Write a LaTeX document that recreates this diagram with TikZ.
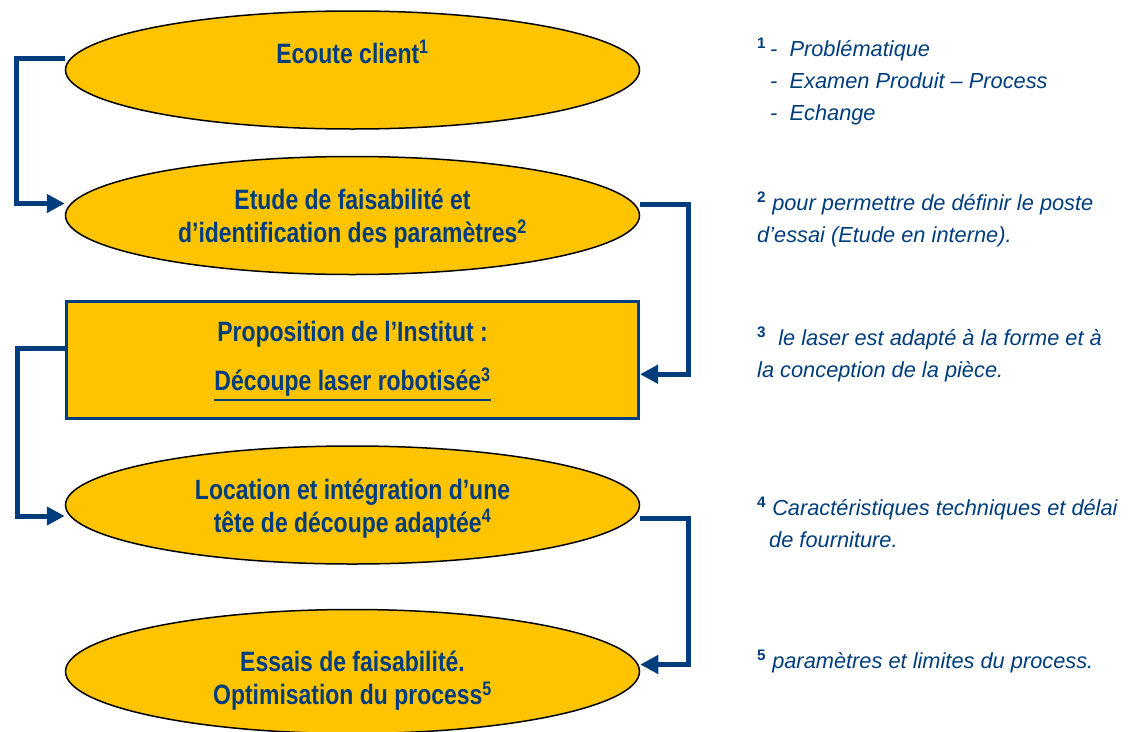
\documentclass[tikz,border=0pt]{standalone}
\usepackage{fontspec}
\setmainfont{Liberation Sans}
\newfontfamily\narrowfont{Liberation Sans}[FakeStretch=0.82]
\usetikzlibrary{shapes.geometric, arrows.meta, positioning}
\definecolor{navy}{RGB}{0,61,125}
\definecolor{gold}{RGB}{255,196,0}
\newcommand\ulthick[1]{\leavevmode\vtop{\hbox{#1}\kern2.5pt\hrule height 2.5pt}}

\begin{document}
\begin{tikzpicture}[
    x=1pt, y=-1pt,
    node distance=25pt,
    oval/.style={ellipse, draw=black, line width=1.5pt, fill=gold, minimum width=574pt, minimum height=118pt, inner sep=0pt},
    box/.style={rectangle, draw=navy, line width=3pt, fill=gold, minimum width=572pt, minimum height=117pt, inner sep=0pt},
    lbl/.style={text=navy, align=center, anchor=base, inner sep=0pt, font=\narrowfont\bfseries\fontsize{28}{33}\selectfont},
    note/.style={text=navy, align=left, anchor=base west, inner sep=0pt, font=\fontsize{21.8}{32}\selectfont\itshape},
    link/.style={draw=navy, line width=5pt, -{Triangle[length=18pt, width=18pt]}}
]
\useasboundingbox (0,0) rectangle (1134,731);

% steps
\node[oval] (ecoute) at (352.5,70) {};
\node[oval, below=26pt of ecoute] (etude) {};
\node[box, below=of etude] (offre) {};
\node[oval, below=of offre] (location) {};
\node[oval, below=44pt of location, minimum height=124pt] (essais) {};

% texts (base = last line)
\node[lbl] (ecoutetxt) at ([yshift=7pt]ecoute.center) {Ecoute client\textsuperscript{1}};
\node[lbl] (etudetxt) at ([yshift=-27pt]etude.center) {Etude de faisabilité et\\d’identification des paramètres\textsuperscript{2}};
\node[lbl] (offretxt) at ([yshift=-30pt]offre.center) {Proposition de l’Institut :\\[16pt]\ulthick{Découpe laser robotisée\textsuperscript{3}}};
\node[lbl] (locationtxt) at ([yshift=-27pt]location.center) {Location et intégration d’une\\tête de découpe adaptée\textsuperscript{4}};
\node[lbl] (essaistxt) at ([yshift=-33pt]essais.center) {Essais de faisabilité.\\Optimisation du process\textsuperscript{5}};

% notes
\node[note] (note1) at (757,120) {\makebox[13pt][l]{\upshape\bfseries\textsuperscript{1}}-\ \ Problématique\\\hspace*{13pt}-\ \ Examen Produit – Process\\\hspace*{13pt}-\ \ Echange};
\node[note] (note2) at (757,242) {{\upshape\bfseries\textsuperscript{2}} pour permettre de définir le poste\\d’essai (Etude en interne).};
\node[note] (note3) at (757,377) {{\upshape\bfseries\textsuperscript{3}}\ \ le laser est adapté à la forme et à\\la conception de la pièce.};
\node[note] (note4) at (757,547) {{\upshape\bfseries\textsuperscript{4}} Caractéristiques techniques et délai\\\hspace*{12pt}de fourniture.};
\node[note] (note5) at (757,668) {{\upshape\bfseries\textsuperscript{5}} paramètres et limites du process.};

% connectors
\draw[link] ([yshift=12pt]ecoute.west) -- ++(-48,0) |- ([yshift=12pt]etude.west);
\draw[link] ([yshift=11pt]etude.east) -- ++(48,0) |- ([yshift=-14pt]offre.east);
\draw[link] ([yshift=12pt]offre.west) -- ++(-48,0) |- ([yshift=-11pt]location.west);
\draw[link] ([yshift=-13pt]location.east) -- ++(48,0) |- ([yshift=7pt]essais.east);
\end{tikzpicture}
\end{document}
